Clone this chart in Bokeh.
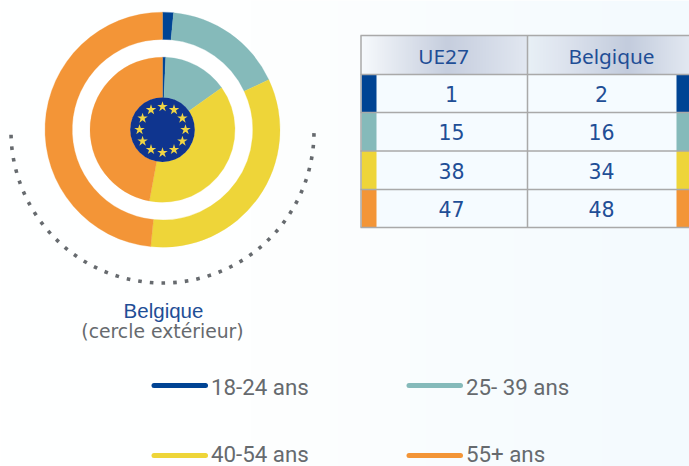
import numpy as np
from bokeh.plotting import figure
from bokeh.embed import file_html
from bokeh.resources import INLINE
from bokeh.core.properties import value

W, H = 689, 466
age_groups = ["18-24 ans", "25- 39 ans", "40-54 ans", "55+ ans"]
ue27 = [1, 15, 38, 47]
belgique = [2, 16, 34, 48]
ue27_ring = [0.7, 14.5, 37.7, 47.1]
belgique_ring = [1.5, 16.5, 33.6, 48.4]
colors = ["#004494", "#85baba", "#eed539", "#f39537"]
header_labels = ["UE27", "Belgique"]
NAVY = "#1f4e96"
GREY = "#666a6e"
BORDER = "#a9a9a9"
FONT = value("DejaVu Sans")
TAHOMA_LIKE = value("Noto Sans")
LEGEND_FONT = value("Roboto")

def Y(py):
    return H - py

p = figure(width=W, height=H, x_range=(0, W), y_range=(0, H), output_backend="svg",
           toolbar_location=None, min_border=0, outline_line_color=None,
           background_fill_color="#ffffff", border_fill_color="#ffffff")
p.axis.visible = False
p.grid.visible = False
p.styles = {"position": "absolute", "left": "0px", "top": "0px"}

# page background: soft horizontal gradient
stops_x = [0, 250, 689]
stops_c = [(255, 255, 255), (254, 255, 255), (243, 250, 254)]
xs = np.arange(W)
bg = np.zeros((1, W), dtype=np.uint32)
v = bg.view(dtype=np.uint8).reshape((1, W, 4))
for c in range(3):
    v[0, :, c] = np.interp(xs, stops_x, [s[c] for s in stops_c]).astype(np.uint8)
v[0, :, 3] = 255
p.image_rgba(image=[bg], x=0, y=0, dw=W, dh=H)

# rings
CX, CY = 162, Y(129.2)
def ring(vals, r0, r1):
    total = sum(vals)
    cum = np.cumsum([0] + list(vals)) / total
    start = np.pi / 2 - cum[:-1] * 2 * np.pi
    end = np.pi / 2 - cum[1:] * 2 * np.pi
    p.annular_wedge(x=[CX] * len(vals), y=[CY] * len(vals), inner_radius=r0, outer_radius=r1,
                    start_angle=end, end_angle=start, direction="anticlock",
                    fill_color=colors, line_color=colors, line_width=0.3)

p.circle(x=[CX], y=[CY], radius=100, fill_color="#ffffff", line_color=None)
ring(belgique_ring, 90.3, 117.5)
ring(ue27_ring, 32, 72.5)

# EU flag
p.circle(x=[CX], y=[CY], radius=32.3, fill_color="#0f358f", line_color=None)
a = np.arange(12) * np.pi / 6
p.scatter(x=CX + 23 * np.cos(a), y=CY + 23 * np.sin(a), marker="star", size=11,
          fill_color="#f0d545", line_color=None)

# dotted arc, drawn as small squares following the curve
t = np.radians(270.3 + 4.42 * np.arange(-20, 21))
p.scatter(x=CX + 151.5 * np.cos(t), y=Y(131) + 151.5 * np.sin(t), marker="square", size=3.6,
          angle=t, fill_color="#666a6e", line_color=None)

p.text(x=[163], y=[Y(310)], text=["Belgique"], text_font=value("Liberation Sans"), text_font_size="20.5px",
       text_color=NAVY, text_align="center", text_baseline="middle")
p.text(x=[162], y=[Y(331)], text=["(cercle extérieur)"], text_font=FONT, text_font_size="18.8px",
       text_color=GREY, text_align="center", text_baseline="middle")

# table
row_y = [35, 74, 112, 150.5, 189, 227]
p.quad(left=[361], right=[689], top=[Y(74)], bottom=[Y(227)], fill_color="#f5fbff", line_color=None)

def grad(x0, x1, c_x, c_c):
    n = int(x1 - x0)
    img = np.zeros((1, n), dtype=np.uint32)
    vv = img.view(dtype=np.uint8).reshape((1, n, 4))
    s = np.arange(n)
    for c in range(3):
        vv[0, :, c] = np.interp(s, c_x, [q[c] for q in c_c]).astype(np.uint8)
    vv[0, :, 3] = 255
    p.image_rgba(image=[img], x=x0, y=Y(74), dw=x1 - x0, dh=39)

grad(361, 527, [0, 15, 85, 115, 165],
     [(246, 250, 253), (238, 242, 247), (198, 206, 222), (208, 215, 229), (226, 232, 241)])
grad(527, 689, [0, 30, 100, 162],
     [(232, 240, 246), (224, 230, 240), (195, 204, 221), (227, 233, 242)])

for i, c in enumerate(colors):
    top, bot = Y(row_y[i + 1]), Y(row_y[i + 2])
    p.quad(left=[361, 676], right=[376, 689], top=[top, top], bottom=[bot, bot], fill_color=c, line_color=None)

for yy in row_y:
    p.line(x=[360, 689], y=[Y(yy), Y(yy)], line_color=BORDER, line_width=1.5)
for xx in [360.5, 527]:
    p.line(x=[xx, xx], y=[Y(35), Y(227)], line_color=BORDER, line_width=1.5)

for j, lab in enumerate(header_labels):
    p.text(x=[[443, 611][j]], y=[Y(55.5)], text=[lab], text_font=TAHOMA_LIKE, text_font_size="20.8px",
           text_color=NAVY, text_align="center", text_baseline="middle")
for i in range(4):
    yy = Y((row_y[i + 1] + row_y[i + 2]) / 2 + 0.5)
    p.text(x=[451, 601], y=[yy, yy], text=[str(ue27[i]), str(belgique[i])], text_font=FONT,
           text_font_size="20.5px", text_color=NAVY, text_align="center", text_baseline="middle")

# legend
leg_x = [151, 406, 151, 406]
leg_y = [385, 385, 455, 455]
text_y = [386, 386, 453, 453]
for i, lab in enumerate(age_groups):
    p.line(x=[leg_x[i] + 2.5, leg_x[i] + 54], y=[Y(leg_y[i])] * 2, line_color=colors[i],
           line_width=5, line_cap="round")
    p.text(x=[leg_x[i] + 59.5], y=[Y(text_y[i])], text=[lab], text_font=LEGEND_FONT, text_font_size="22.3px",
           text_color=GREY, text_align="left", text_baseline="middle")

open("out.html", "w").write(file_html(p, INLINE))
